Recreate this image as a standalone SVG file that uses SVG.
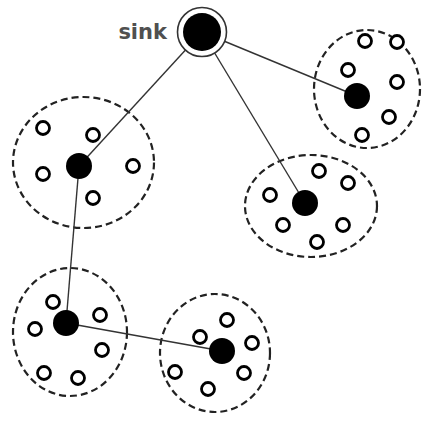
<svg xmlns="http://www.w3.org/2000/svg" width="422" height="421" viewBox="0 0 422 421">
<style>
.cl{fill:none;stroke:#222;stroke-width:2.2;stroke-dasharray:7 4}
.ln{stroke:#333;stroke-width:1.4;fill:none}
.m{fill:#fff;stroke:#000;stroke-width:2.8}
.h{fill:#000}
.lbl{font-family:"DejaVu Sans",sans-serif;font-weight:bold;font-size:21px;fill:#505050}
</style>
<rect width="422" height="421" fill="#fff"/>
<g id="clusters">
<ellipse class="cl" cx="367" cy="89" rx="53" ry="59"/>
<ellipse class="cl" cx="83.5" cy="162.5" rx="70.5" ry="65.5"/>
<ellipse class="cl" cx="311" cy="206" rx="66" ry="51"/>
<ellipse class="cl" cx="70" cy="332" rx="57" ry="64"/>
<ellipse class="cl" cx="215" cy="353" rx="55" ry="59"/>
</g>
<g id="connectors">
<line class="ln" x1="202" y1="32" x2="357" y2="96"/>
<line class="ln" x1="202" y1="32" x2="79" y2="166"/>
<line class="ln" x1="202" y1="32" x2="305" y2="203"/>
<line class="ln" x1="79" y1="166" x2="66" y2="323"/>
<line class="ln" x1="66" y1="323" x2="222" y2="351"/>
</g>
<g id="sink">
<circle cx="202" cy="32" r="24.5" fill="#fff" stroke="#333" stroke-width="1.6"/>
<circle cx="202" cy="32" r="19" class="h"/>
<text class="lbl" x="167" y="39" text-anchor="end">sink</text>
</g>
<g id="cluster1">
<circle class="h" cx="357" cy="96" r="13"/>
<circle class="m" cx="365" cy="41" r="6.5"/>
<circle class="m" cx="397" cy="42" r="6.5"/>
<circle class="m" cx="348" cy="70" r="6.5"/>
<circle class="m" cx="397" cy="82" r="6.5"/>
<circle class="m" cx="389" cy="117" r="6.5"/>
<circle class="m" cx="362" cy="135" r="6.5"/>
</g>
<g id="cluster2">
<circle class="h" cx="79" cy="166" r="13"/>
<circle class="m" cx="43" cy="128" r="6.5"/>
<circle class="m" cx="93" cy="135" r="6.5"/>
<circle class="m" cx="133" cy="166" r="6.5"/>
<circle class="m" cx="43" cy="174" r="6.5"/>
<circle class="m" cx="93" cy="198" r="6.5"/>
</g>
<g id="cluster3">
<circle class="h" cx="305" cy="203" r="13"/>
<circle class="m" cx="319" cy="171" r="6.5"/>
<circle class="m" cx="348" cy="183" r="6.5"/>
<circle class="m" cx="270" cy="195" r="6.5"/>
<circle class="m" cx="283" cy="225" r="6.5"/>
<circle class="m" cx="343" cy="225" r="6.5"/>
<circle class="m" cx="317" cy="242" r="6.5"/>
</g>
<g id="cluster4">
<circle class="h" cx="66" cy="323" r="13"/>
<circle class="m" cx="53" cy="302" r="6.5"/>
<circle class="m" cx="100" cy="315" r="6.5"/>
<circle class="m" cx="35" cy="329" r="6.5"/>
<circle class="m" cx="102" cy="350" r="6.5"/>
<circle class="m" cx="44" cy="373" r="6.5"/>
<circle class="m" cx="78" cy="378" r="6.5"/>
</g>
<g id="cluster5">
<circle class="h" cx="222" cy="351" r="13"/>
<circle class="m" cx="227" cy="320" r="6.5"/>
<circle class="m" cx="200" cy="337" r="6.5"/>
<circle class="m" cx="252" cy="343" r="6.5"/>
<circle class="m" cx="175" cy="372" r="6.5"/>
<circle class="m" cx="244" cy="373" r="6.5"/>
<circle class="m" cx="208" cy="389" r="6.5"/>
</g>
</svg>
